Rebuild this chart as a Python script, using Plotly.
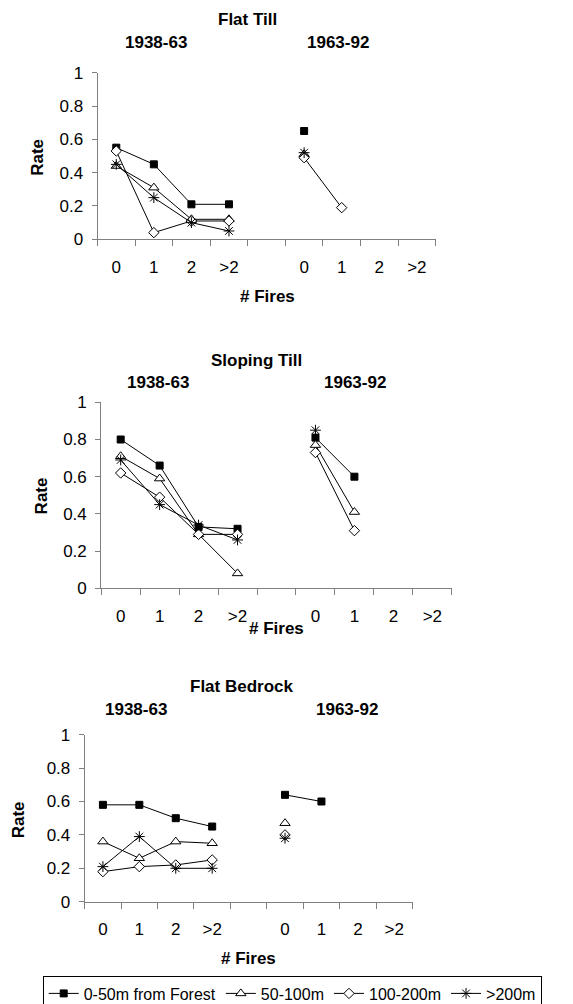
import plotly.graph_objects as go

W, H = 573, 1004

FIRES = ["0", "1", "2", ">2"]
PERIODS = ["1938-63", "1963-92"]
SERIES = ["0-50m from Forest", "50-100m", "100-200m", ">200m"]
PANELS = ["Flat Till", "Sloping Till", "Flat Bedrock"]

# values per panel, per series: (1938-63 values, 1963-92 values)
flat_till_0_50 = ([0.55, 0.45, 0.21, 0.21], [0.65, None, None, None])
flat_till_50_100 = ([0.44, 0.31, 0.12, 0.12], [0.51, None, None, None])
flat_till_100_200 = ([0.53, 0.04, 0.11, 0.11], [0.49, 0.19, None, None])
flat_till_200 = ([0.45, 0.25, 0.10, 0.05], [0.52, None, None, None])

sloping_till_0_50 = ([0.80, 0.66, 0.33, 0.32], [0.81, 0.60, None, None])
sloping_till_50_100 = ([0.71, 0.59, 0.29, 0.08], [0.77, 0.41, None, None])
sloping_till_100_200 = ([0.62, 0.49, 0.29, 0.29], [0.73, 0.31, None, None])
sloping_till_200 = ([0.69, 0.45, 0.34, 0.26], [0.85, None, None, None])

flat_bedrock_0_50 = ([0.58, 0.58, 0.50, 0.45], [0.64, 0.60, None, None])
flat_bedrock_50_100 = ([0.36, 0.26, 0.36, 0.35], [0.47, None, None, None])
flat_bedrock_100_200 = ([0.18, 0.21, 0.22, 0.25], [0.40, None, None, None])
flat_bedrock_200 = ([0.21, 0.39, 0.20, 0.20], [0.38, None, None, None])

panel_data = [
    [flat_till_0_50, flat_till_50_100, flat_till_100_200, flat_till_200],
    [sloping_till_0_50, sloping_till_50_100, sloping_till_100_200, sloping_till_200],
    [flat_bedrock_0_50, flat_bedrock_50_100, flat_bedrock_100_200, flat_bedrock_200],
]

# category slots: 4 fire classes, a blank slot, 4 fire classes
CATS = FIRES + [""] + FIRES
XIDX = list(range(len(CATS)))

FONT = "Liberation Sans, Arial, sans-serif"
AXC = "#808080"

markers = [
    dict(symbol="square", size=7, color="black", line=dict(color="black", width=1)),
    dict(symbol="triangle-up", size=9, color="white", line=dict(color="black", width=1)),
    dict(symbol="diamond", size=8, color="white", line=dict(color="black", width=1)),
    dict(symbol="asterisk-open", size=9, color="black", line=dict(color="black", width=1)),
]

# layout geometry in pixels (plot area of each panel)
geom = [
    dict(x0=97.5, x1=435.6, ytop=72.7, ybot=239.3,
         title=(247.5, 20), p1=(155.8, 43), p2=(338, 43), rate=(37.8, 157), fires=(267, 296.7)),
    dict(x0=101.2, x1=451.8, ytop=402.3, ybot=588.3,
         title=(256.7, 360), p1=(157.7, 382.7), p2=(354.6, 382.7), rate=(41.4, 496), fires=(276.9, 628)),
    dict(x0=84.7, x1=412.5, ytop=734.7, ybot=901.7,
         title=(242, 686), p1=(136.4, 709.3), p2=(346.5, 709.3), rate=(18.3, 820), fires=(248.3, 958.3)),
]

fig = go.Figure()
annotations = []

for p, (pname, series_list, g) in enumerate(zip(PANELS, panel_data, geom)):
    sfx = "" if p == 0 else str(p + 1)
    for s, (sname, (v1, v2)) in enumerate(zip(SERIES, series_list)):
        yvals = list(v1) + [None] + list(v2)
        fig.add_trace(go.Scatter(
            x=XIDX, y=yvals, mode="lines+markers", name=sname,
            line=dict(color="black", width=1), marker=markers[s],
            connectgaps=False, legendgroup=sname, showlegend=(p == 0),
            cliponaxis=False, xaxis="x" + sfx, yaxis="y" + sfx,
        ))
    xa = dict(
        domain=[g["x0"] / W, g["x1"] / W], anchor="y" + sfx,
        range=[-0.5, len(CATS) - 0.5], tickmode="array", tickvals=XIDX, ticktext=CATS,
        ticks="", showline=True, linecolor=AXC, linewidth=1, showgrid=False, zeroline=False,
        tickfont=dict(family=FONT, size=17, color="black"), ticklabelstandoff=12,
        minor=dict(tickmode="linear", tick0=-0.5, dtick=1, ticks="outside", ticklen=6,
                   tickcolor=AXC, tickwidth=1, showgrid=False),
        fixedrange=True,
    )
    ya = dict(
        domain=[1 - g["ybot"] / H, 1 - g["ytop"] / H], anchor="x" + sfx,
        range=[0, 1], tickmode="array", tickvals=[0, 0.2, 0.4, 0.6, 0.8, 1],
        ticktext=["0", "0.2", "0.4", "0.6", "0.8", "1"],
        ticks="outside", ticklen=5, tickcolor=AXC, showline=True, linecolor=AXC, linewidth=1,
        showgrid=False, zeroline=False, tickfont=dict(family=FONT, size=17, color="black"),
        ticklabelstandoff=5, fixedrange=True,
    )
    fig.update_layout({"xaxis" + sfx: xa, "yaxis" + sfx: ya})

    bold = dict(family=FONT, size=17, color="black")
    for txt, (px, py) in [("<b>" + pname + "</b>", g["title"]),
                          ("<b>" + PERIODS[0] + "</b>", g["p1"]),
                          ("<b>" + PERIODS[1] + "</b>", g["p2"]),
                          ("<b># Fires</b>", g["fires"])]:
        annotations.append(dict(text=txt, x=px / W, y=1 - py / H, xref="paper", yref="paper",
                                xanchor="center", yanchor="middle", showarrow=False, font=bold))
    annotations.append(dict(text="<b>Rate</b>", x=g["rate"][0] / W, y=1 - g["rate"][1] / H,
                            xref="paper", yref="paper", xanchor="center", yanchor="middle",
                            showarrow=False, textangle=-90, font=bold))

fig.update_layout(
    width=W, height=H, margin=dict(l=0, r=0, t=0, b=0, autoexpand=False),
    paper_bgcolor="white", plot_bgcolor="white",
    font=dict(family=FONT, size=17, color="black"),
    annotations=annotations,
    legend=dict(orientation="h", x=42.7 / W, y=1 - 975.5 / H, xanchor="left", yanchor="top",
                bordercolor="black", borderwidth=1, bgcolor="white",
                font=dict(family=FONT, size=16, color="black"), itemwidth=30,
                tracegroupgap=0, traceorder="normal"),
)

fig.write_html("out.html", post_script="document.body.style.margin='0';",
               config={"displayModeBar": False})
